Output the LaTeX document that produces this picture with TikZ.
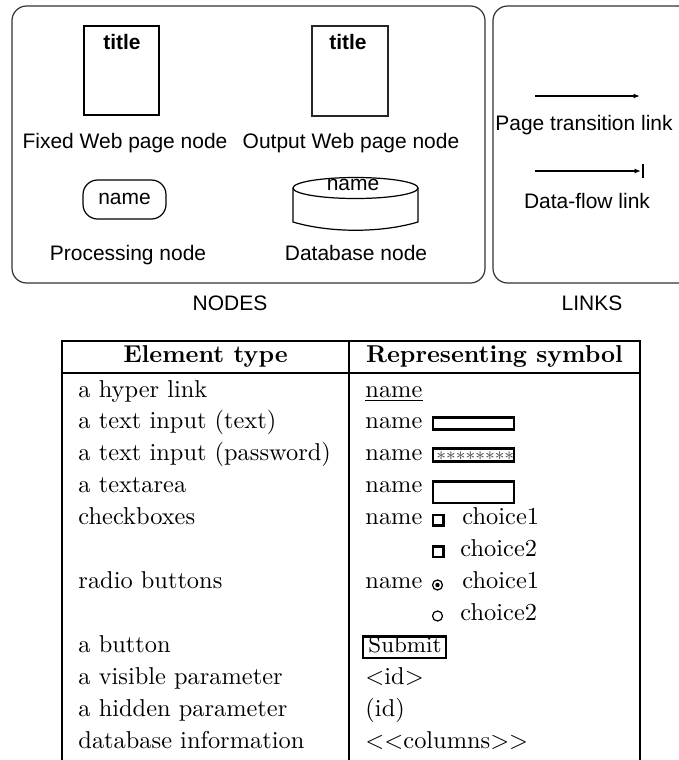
\documentclass[tikz,border=0pt]{standalone}
\usepackage{fontspec}
\newfontfamily\helv{Liberation Sans}
\usetikzlibrary{arrows.meta}
\begin{document}
\begin{tikzpicture}[x=0.41pt,y=-0.41pt,
  sans/.style={font=\helv\fontsize{8.6}{10}\selectfont, inner sep=0, anchor=base},
  sanstitle/.style={font=\helv\bfseries\fontsize{8.6}{10}\selectfont, inner sep=0, anchor=base},
  cell/.style={font=\fontsize{10}{12}\selectfont, inner sep=0, anchor=base west},
  hdr/.style={font=\fontsize{10}{12}\selectfont\bfseries, inner sep=0, anchor=base},
  panel/.style={draw=black!80, line width=0.5pt, rounded corners=6pt},
  rule/.style={line width=1pt},
  field/.style={draw, line width=1pt},
  link/.style={line width=0.5pt, -{Latex[length=2.6pt,width=2pt]}}]
\useasboundingbox (0,0) rectangle (679,760);

% ---------- NODES panel ----------
\draw[panel] (12,6) rectangle (485,283);
\node[sans] (nodescap) at (230,310) {NODES};

% fixed web page node
\draw[line width=0.9pt] (84,26) rectangle (159,115);
\node[sanstitle] (ftitle) at (122,49) {title};
\node[sans] (flabel) at (125,148) {Fixed Web page node};

% output web page node
\draw[line width=0.5pt, draw=black!85] (312,26) rectangle (388,116);
\node[sanstitle] (otitle) at (348,49) {title};
\node[sans] (olabel) at (351,148) {Output Web page node};

% processing node
\draw[line width=0.5pt, rounded corners=6pt] (83,180) rectangle (166,219);
\node[sans] (pname) at (124.5,204) {name};
\node[sans] (plabel) at (128,260) {Processing node};

% database node (cylinder)
\draw[line width=0.5pt] (355.5,188) ellipse [x radius=62.5, y radius=10.5];
\draw[line width=0.5pt] (293,188) -- (293,222)
  .. controls (330,233) and (381,233) .. (418,222) -- (418,188);
\node[sans] (dname) at (353,190.5) {name};
\node[sans] (dlabel) at (356,260) {Database node};

% ---------- LINKS panel (runs on past the right edge) ----------
\draw[panel] (700,6) -- (493,6) -- (493,283) -- (700,283);
\node[sans] (linkscap) at (592,310) {LINKS};

\coordinate (pt1) at (535,96);
\coordinate (pt2) at (640,96);
\draw[link] (pt1) -- (pt2);
\node[sans] (ptlabel) at (584,130) {Page transition link};

\coordinate (df1) at (535,171);
\coordinate (df2) at (641,171);
\coordinate (dfb1) at (643,164);
\coordinate (dfb2) at (643,178);
\draw[link] (df1) -- (df2);
\draw[line width=0.6pt] (dfb1) -- (dfb2);
\node[sans] (dflabel) at (587,208) {Data-flow link};

% ---------- element table ----------
\draw[rule] (62,760) -- (62,341) -- (640,341) -- (640,760);
\draw[rule] (62,373) -- (640,373);
\draw[rule] (349,341) -- (349,760);

\node[hdr] (h1) at (205.5,362) {Element type};
\node[hdr] (h2) at (494.5,362) {Representing symbol};

\node[cell] (e1)  at (78,397)   {a hyper link};
\node[cell] (e2)  at (78,428.5) {a text input (text)};
\node[cell] (e3)  at (78,460.5) {a text input (password)};
\node[cell] (e4)  at (78,492.5) {a textarea};
\node[cell] (e5)  at (78,524.5) {checkboxes};
\node[cell] (e6)  at (78,588.5) {radio buttons};
\node[cell] (e7)  at (78,652.5) {a button};
\node[cell] (e8)  at (78,684.5) {a visible parameter};
\node[cell] (e9)  at (78,716.5) {a hidden parameter};
\node[cell] (e10) at (78,748)   {database information};

% hyper link
\node[cell] (s1) at (365,397) {name};
\draw[line width=0.8pt] (365,400.5) -- (423,400.5);

% text input
\node[cell] (s2) at (365,428.5) {name};
\draw[field] (433,417.5) rectangle (514,429.5);

% password input
\node[cell] (s3) at (365,460.5) {name};
\draw[field] (433,448.5) rectangle (514,461.5);
\node[cell, font=\fontsize{7.5}{8}\selectfont, text=black!70] (stars) at (436,465) {********};

% textarea
\node[cell] (s4) at (365,492.5) {name};
\draw[field] (433,481.5) rectangle (514,503);

% checkboxes
\node[cell] (s5) at (365,524.5) {name};
\draw[field] (433,515) rectangle (443.5,525.5);
\node[cell] (c1) at (462,524.5) {choice1};
\draw[field] (433,546.5) rectangle (443.5,557);
\node[cell] (c2) at (460,556.5) {choice2};

% radio buttons
\node[cell] (s6) at (365,588.5) {name};
\draw[line width=0.5pt] (437.5,585) circle[radius=5];
\fill (437.5,585) circle[radius=2.2];
\node[cell] (r1) at (462,588.5) {choice1};
\draw[line width=0.5pt] (437.5,616) circle[radius=5];
\node[cell] (r2) at (460,620.5) {choice2};

% button
\node[cell, font=\fontsize{9.2}{11}\selectfont] (submit) at (368,652.5) {Submit};
\draw[field] (363,636.5) rectangle (446,658);

% parameters and database information
\node[cell] (s8)  at (365,684.5) {$<$id$>$};
\node[cell] (s9)  at (365,716.5) {(id)};
\node[cell] (s10) at (365,748)   {$<$$<$columns$>$$>$};
\end{tikzpicture}
\end{document}
